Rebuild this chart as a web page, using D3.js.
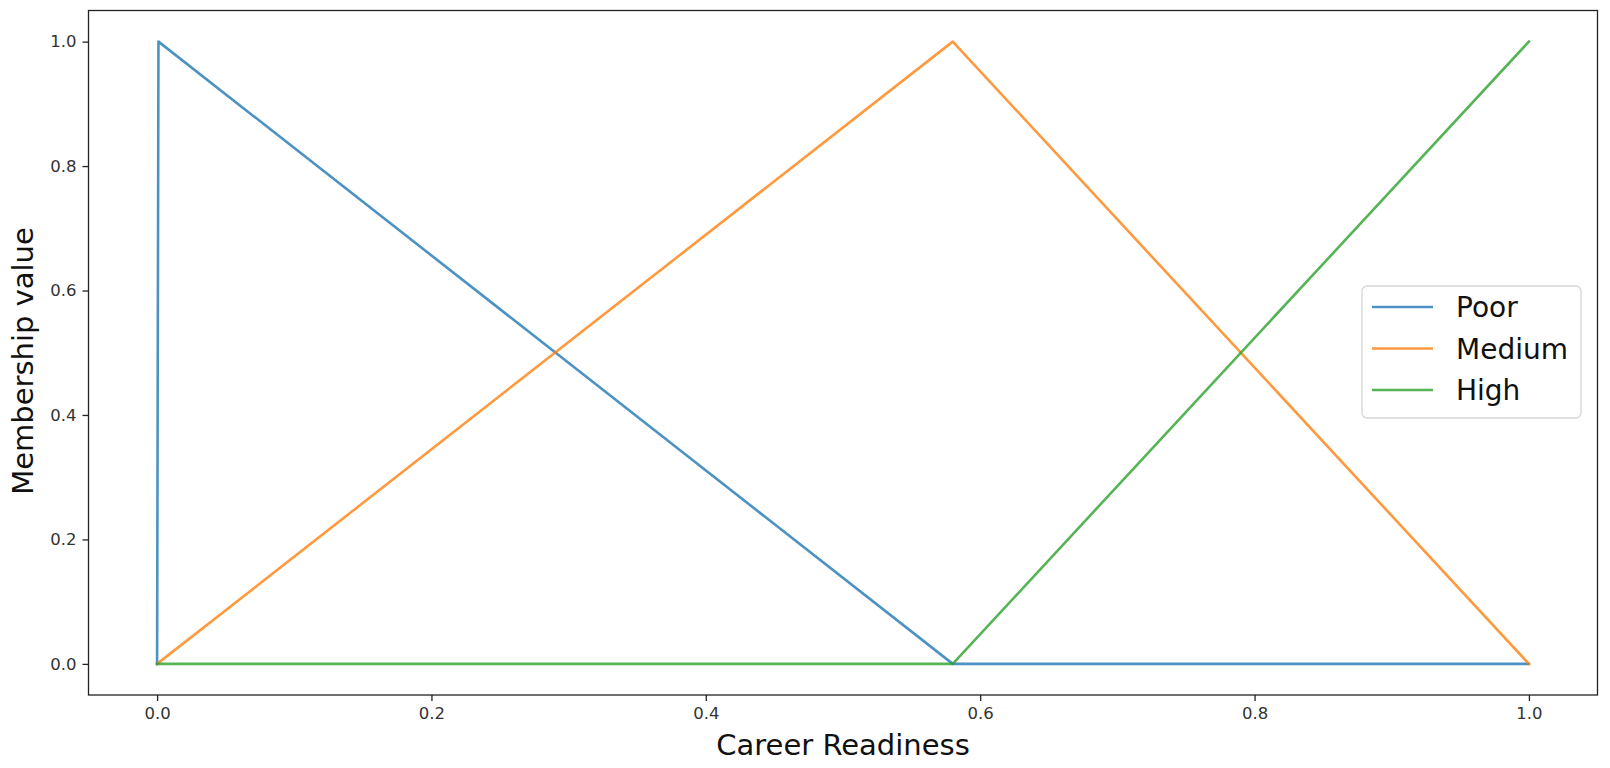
<!DOCTYPE html>
<html>
  <head>
    <meta charset="utf-8" />
    <title>Career Readiness membership</title>
    <script src="https://cdnjs.cloudflare.com/ajax/libs/d3/7.8.5/d3.min.js"></script>
    <style>
      body { margin: 0; background: #fff; }
      text { font-family: "DejaVu Sans", sans-serif; }
    </style>
  </head>
  <body>
    <div id="main-container"></div>
    <script>

  // membership functions (x, y) break points
  var seriesNames = ["Poor", "Medium", "High"];
  var seriesColors = ["#1f77b4", "#ff7f0e", "#2ca02c"];
  var poorX   = [0, 0.001, 0.58, 1];
  var poorY   = [0, 1, 0, 0];
  var mediumX = [0, 0.58, 1];
  var mediumY = [0, 1, 0];
  var highX   = [0, 0.58, 1];
  var highY   = [0, 0, 1];
  var xTicks = [0, 0.2, 0.4, 0.6, 0.8, 1.0];
  var yTicks = [0, 0.2, 0.4, 0.6, 0.8, 1.0];

  var outerWidth = 1610;
  var outerHeight = 768;
  var margin = {left: 88.5, top: 10.5, right: 12.5, bottom: 73};
  var width = outerWidth - margin.left - margin.right;
  var height = outerHeight - margin.top - margin.bottom;
  var lineAlpha = 0.8;

  var svg = d3.select('#main-container').append('svg')
    .attr('width', outerWidth)
    .attr('height', outerHeight);

  var g = svg.append('g')
    .attr('transform', 'translate(' + margin.left + ',' + margin.top + ')');

  var xScale = d3.scaleLinear().domain([-0.05, 1.05]).range([0, width]);
  var yScale = d3.scaleLinear().domain([-0.05, 1.05]).range([height, 0]);

  var series = [
    d3.zip(poorX, poorY),
    d3.zip(mediumX, mediumY),
    d3.zip(highX, highY)
  ];

  var line = d3.line()
    .x(function(d){ return xScale(d[0]); })
    .y(function(d){ return yScale(d[1]); });

  g.selectAll('path.series').data(series).enter().append('path')
    .attr('class', 'series')
    .attr('d', line)
    .attr('fill', 'none')
    .attr('stroke', function(d, i){ return seriesColors[i]; })
    .attr('stroke-opacity', lineAlpha)
    .attr('stroke-width', 2.6)
    .attr('stroke-linejoin', 'round')
    .attr('stroke-linecap', 'square');

  // axes
  var xAxis = d3.axisBottom(xScale).tickValues(xTicks).tickFormat(d3.format('.1f'))
    .tickSize(6).tickPadding(6);
  var yAxis = d3.axisLeft(yScale).tickValues(yTicks).tickFormat(d3.format('.1f'))
    .tickSize(6).tickPadding(6);

  var gx = g.append('g').attr('transform', 'translate(0,' + height + ')').call(xAxis);
  var gy = g.append('g').call(yAxis);
  [gx, gy].forEach(function(a){
    a.select('.domain').remove();
    a.selectAll('line').attr('stroke', '#222').attr('stroke-width', 1.3);
    a.selectAll('text').attr('font-size', 16.5).attr('fill', '#333')
      .attr('font-family', '"DejaVu Sans", sans-serif');
  });

  // frame
  g.append('rect')
    .attr('width', width).attr('height', height)
    .attr('fill', 'none').attr('stroke', '#222').attr('stroke-width', 1.3);

  // axis labels
  svg.append('text')
    .attr('x', margin.left + width / 2).attr('y', 755)
    .attr('text-anchor', 'middle').attr('font-size', 29).attr('fill', '#111')
    .text('Career Readiness');
  svg.append('text')
    .attr('transform', 'translate(33,361) rotate(-90)')
    .attr('text-anchor', 'middle').attr('font-size', 29).attr('fill', '#111')
    .text('Membership value');

  // legend
  var legend = svg.append('g').attr('transform', 'translate(1362,286)');
  legend.append('rect')
    .attr('width', 219).attr('height', 132).attr('rx', 5)
    .attr('fill', 'rgba(255,255,255,0.8)').attr('stroke', '#d6d6d6').attr('stroke-width', 1.3);
  var items = legend.selectAll('g.item').data(seriesNames).enter().append('g')
    .attr('class', 'item')
    .attr('transform', function(d, i){ return 'translate(0,' + (21 + i * 41.5) + ')'; });
  items.append('line')
    .attr('x1', 10).attr('x2', 71)
    .attr('stroke', function(d, i){ return seriesColors[i]; })
    .attr('stroke-opacity', lineAlpha)
    .attr('stroke-width', 2.6);
  items.append('text')
    .attr('x', 94).attr('y', 10)
    .attr('font-size', 28).attr('fill', '#111')
    .text(function(d){ return d; });

</script>
  </body>
</html>
